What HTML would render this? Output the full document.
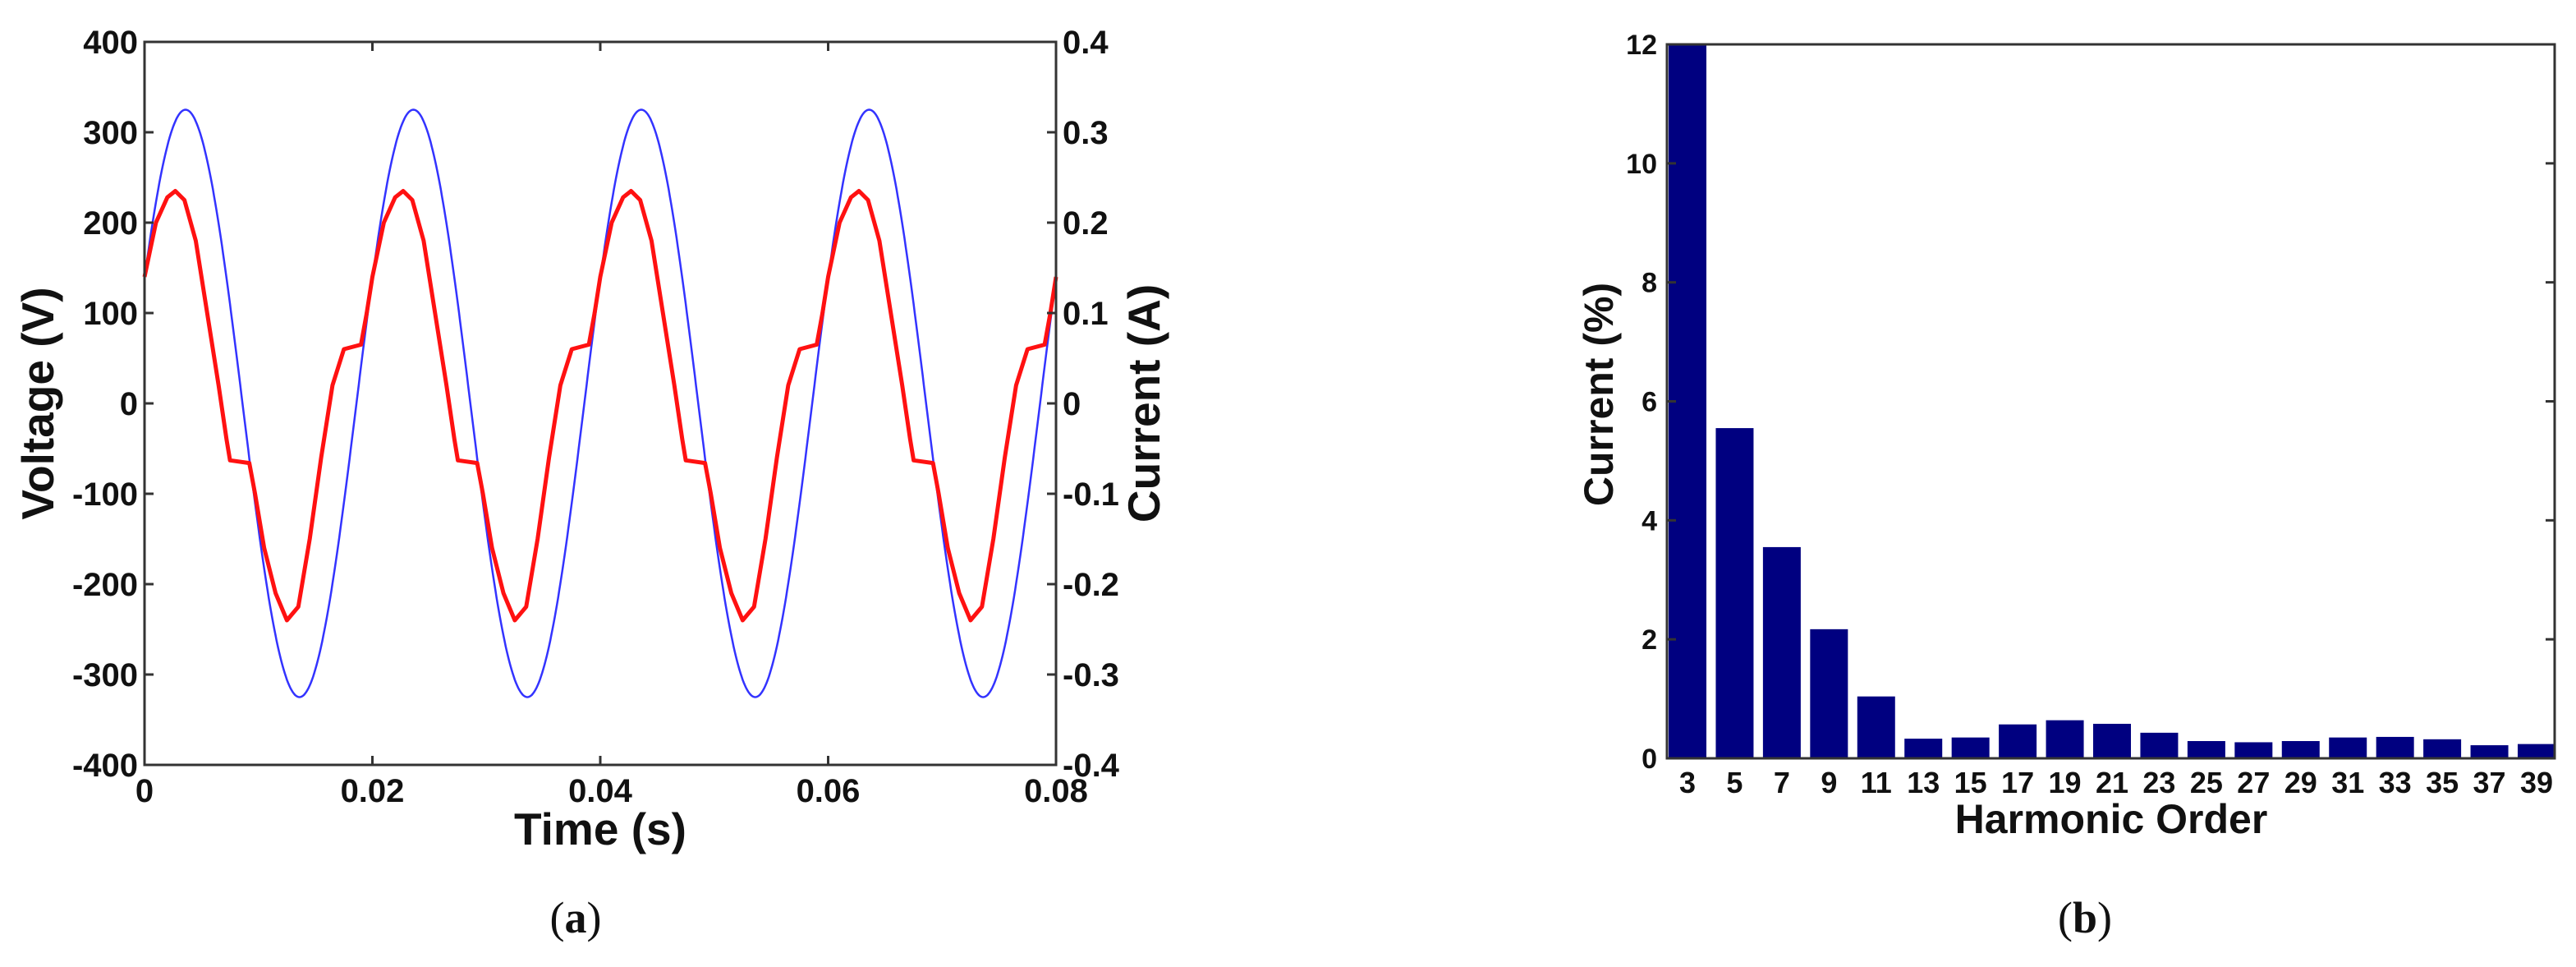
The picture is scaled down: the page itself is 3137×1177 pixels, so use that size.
<!DOCTYPE html>
<html><head><meta charset="utf-8"><style>
html,body{margin:0;padding:0;background:#fff;}
svg{display:block;}
text{font-family:"Liberation Sans",Arial,sans-serif;font-weight:bold;fill:#111;}
.cap{font-family:"Liberation Serif",serif;font-weight:normal;}
</style></head><body>
<svg id="fig" width="3137" height="1177" viewBox="0 0 3137 1177" xmlns="http://www.w3.org/2000/svg">
<g id="chartA"></g>
<g id="chartB"></g>
<text class="cap" x="701" y="1135" font-size="54" text-anchor="middle">(<tspan font-weight="bold">a</tspan>)</text>
<text class="cap" x="2539" y="1135" font-size="54" text-anchor="middle">(<tspan font-weight="bold">b</tspan>)</text>
</svg>
<script>
// ---- Chart A data ----
const voltageTicks = [400,300,200,100,0,-100,-200,-300,-400];
const currentTickLabels = ["0.4","0.3","0.2","0.1","0","-0.1","-0.2","-0.3","-0.4"];
const timeTicks = [0,0.02,0.04,0.06,0.08];
const timeTickLabels = ["0","0.02","0.04","0.06","0.08"];
const voltageAmplitude = 325;
const voltageFreq = 50;
const voltagePhase = 0.44;
const currentPeriodT = [0,0.001,0.002,0.0027,0.0035,0.0045,0.0055,0.0065,0.0072,0.0075,0.0092,0.0097,0.0105,0.0115,0.0125,0.0135,0.0145,0.0155,0.0165,0.0175,0.019,0.0195];
const currentPeriodA = [0.14,0.20,0.228,0.235,0.225,0.18,0.10,0.02,-0.04,-0.063,-0.066,-0.10,-0.16,-0.21,-0.24,-0.225,-0.15,-0.06,0.02,0.06,0.065,0.10];
const currentPeriods = 4;
const period = 0.02;
// ---- Chart B data ----
const harmonicOrders = [3,5,7,9,11,13,15,17,19,21,23,25,27,29,31,33,35,37,39];
const harmonicValues = [12,5.55,3.55,2.17,1.04,0.33,0.35,0.57,0.64,0.58,0.43,0.29,0.27,0.29,0.35,0.36,0.32,0.22,0.24];
const pctTicks = [0,2,4,6,8,10,12];

const NS="http://www.w3.org/2000/svg";
function mk(parent,tag,attrs){const e=document.createElementNS(NS,tag);for(const k in attrs)e.setAttribute(k,attrs[k]);parent.appendChild(e);return e;}

// Chart A
(function(){
const g=document.getElementById('chartA');
const L=176,R=1286,T=51,B=931;
const x=t=>L+(t-0)/(0.08)*(R-L);
const yV=v=>T+(400-v)/800*(B-T);
const yA=a=>yV(a*1000);
// voltage
let d="";
for(let i=0;i<=800;i++){const t=0.08*i/800;const v=voltageAmplitude*Math.sin(2*Math.PI*voltageFreq*t+voltagePhase);d+=(i?"L":"M")+x(t).toFixed(1)+","+yV(v).toFixed(1);}
const vl=mk(g,'path',{d:d,fill:'none',stroke:'#3333ff','stroke-width':2.5});


// current
let d2="";let first=true;
for(let p=0;p<currentPeriods;p++){for(let i=0;i<currentPeriodT.length;i++){const t=p*period+currentPeriodT[i];d2+=(first?"M":"L")+x(t).toFixed(1)+","+yA(currentPeriodA[i]).toFixed(1);first=false;}}
d2+="L"+x(0.08).toFixed(1)+","+yA(currentPeriodA[0]).toFixed(1);
const cl=mk(g,'path',{d:d2,fill:'none',stroke:'#ff1111','stroke-width':5,'stroke-linejoin':'round'});


// frame
const fr=mk(g,'rect',{x:L,y:T,width:R-L,height:B-T,fill:'none',stroke:'#333','stroke-width':3});


voltageTicks.forEach((v,i)=>{const y=yV(v);
 mk(g,'line',{x1:L,y1:y,x2:L+11,y2:y,stroke:'#333','stroke-width':3});
 mk(g,'line',{x1:R,y1:y,x2:R-11,y2:y,stroke:'#333','stroke-width':3});
 const t=mk(g,'text',{x:L-8,y:y+14,'font-size':40,'text-anchor':'end'});t.textContent=v;
 
 
 const t2=mk(g,'text',{x:R+8,y:y+14,'font-size':40,'text-anchor':'start'});t2.textContent=currentTickLabels[i];
 
 
});
timeTicks.forEach((tt,i)=>{const xx=x(tt);
 mk(g,'line',{x1:xx,y1:B,x2:xx,y2:B-11,stroke:'#333','stroke-width':3});
 mk(g,'line',{x1:xx,y1:T,x2:xx,y2:T+11,stroke:'#333','stroke-width':3});
 const t=mk(g,'text',{x:xx,y:976,'font-size':40,'text-anchor':'middle'});t.textContent=timeTickLabels[i];
 
 
});
const xt=mk(g,'text',{x:731,y:1028,'font-size':55,'text-anchor':'middle'});xt.textContent="Time (s)";


const yt=mk(g,'text',{x:0,y:0,'font-size':55,'text-anchor':'middle',transform:'translate(65,491) rotate(-90)'});yt.textContent="Voltage (V)";


const yt2=mk(g,'text',{x:0,y:0,'font-size':55,'text-anchor':'middle',transform:'translate(1412,491) rotate(-90)'});yt2.textContent="Current (A)";


})();

// Chart B
(function(){
const g=document.getElementById('chartB');
const L=2030,R=3111,T=54,B=923;
const first=harmonicOrders[0],last=harmonicOrders[harmonicOrders.length-1];
const c0=2055,c1=3089;
const x=h=>c0+(h-first)/(last-first)*(c1-c0);
const y=v=>B-v/12*(B-T);
const bw=46;
harmonicOrders.forEach((h,i)=>{
 const v=Math.min(harmonicValues[i],12);
 const r=mk(g,'rect',{x:x(h)-bw/2,y:y(v),width:bw,height:B-y(v),fill:'#000080'});
 
 
 const t=mk(g,'text',{x:x(h),y:965,'font-size':36,'text-anchor':'middle'});t.textContent=h;
 
 
});
const fr=mk(g,'rect',{x:L,y:T,width:R-L,height:B-T,fill:'none',stroke:'#333','stroke-width':3});


pctTicks.forEach(v=>{const yy=y(v);
 mk(g,'line',{x1:L,y1:yy,x2:L+11,y2:yy,stroke:'#333','stroke-width':3});
 mk(g,'line',{x1:R,y1:yy,x2:R-11,y2:yy,stroke:'#333','stroke-width':3});
 const t=mk(g,'text',{x:L-12,y:yy+12,'font-size':34,'text-anchor':'end'});t.textContent=v;
 
 
});
const xt=mk(g,'text',{x:2571,y:1014,'font-size':50,'text-anchor':'middle'});xt.textContent="Harmonic Order";


const yt=mk(g,'text',{x:0,y:0,'font-size':50,'text-anchor':'middle',transform:'translate(1964,480) rotate(-90)'});yt.textContent="Current (%)";


})();
</script>
</body></html>
